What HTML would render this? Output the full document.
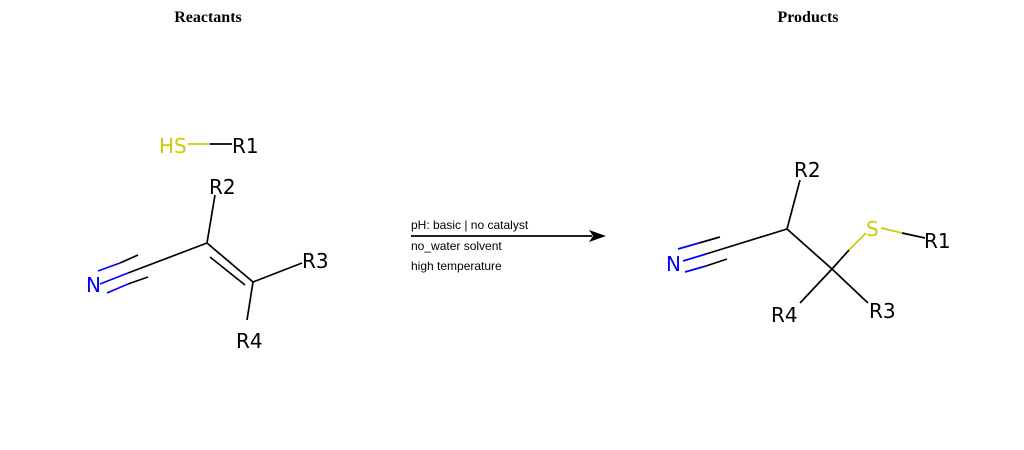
<!DOCTYPE html>
<html><head><meta charset="utf-8"><style>
html,body{margin:0;padding:0;background:#fff;width:1024px;height:450px;overflow:hidden}
svg{display:block}
.t{font-family:"DejaVu Sans","Liberation Sans",sans-serif;font-size:20px}
.c{font-family:"Liberation Sans",sans-serif;font-size:12px;fill:#000}
.h{font-family:"Liberation Serif",serif;font-size:16px;font-weight:bold;text-anchor:middle}
line{stroke-width:1.7;stroke-linecap:butt}
.k{stroke:#000}.b{stroke:#0000ff}.y{stroke:#cccc00}
</style></head><body>
<svg width="1024" height="450" viewBox="0 0 1024 450">
<text class="h" x="208" y="22">Reactants</text>
<text class="h" x="808" y="22">Products</text>

<g>
<text class="t" x="159" y="153" fill="#cccc00">HS</text>
<line class="y" x1="188" y1="144" x2="210" y2="144"/>
<line class="k" x1="210" y1="144" x2="232" y2="144"/>
<text class="t" x="232" y="153" fill="#000">R1</text>
</g>

<g>
<text class="t" x="209" y="194">R2</text>
<line class="k" x1="215" y1="195" x2="207" y2="243"/>
<line class="k" x1="207" y1="243" x2="253" y2="282"/>
<line class="k" x1="210" y1="257" x2="245" y2="285"/>
<line class="k" x1="253" y1="282" x2="302" y2="263"/>
<text class="t" x="302" y="268">R3</text>
<line class="k" x1="253" y1="282" x2="247" y2="320"/>
<text class="t" x="236" y="348">R4</text>
<line class="k" x1="207" y1="243" x2="128" y2="273"/>
<line class="b" x1="128" y1="273" x2="100" y2="284"/>
<line class="k" x1="138" y1="255" x2="120" y2="263"/>
<line class="b" x1="120" y1="263" x2="98" y2="271"/>
<line class="k" x1="148" y1="277" x2="128" y2="284"/>
<line class="b" x1="128" y1="284" x2="107" y2="293"/>
<text class="t" x="86" y="292" fill="#0000ff">N</text>
</g>

<g>
<line x1="411" y1="236" x2="592" y2="236" stroke="#000" stroke-width="1"/>
<polygon points="606,236 589,230 593,236 589,242" fill="#000"/>
<text class="c" x="411" y="229">pH: basic | no catalyst</text>
<text class="c" x="411" y="250">no_water solvent</text>
<text class="c" x="411" y="270">high temperature</text>
</g>

<g>
<text class="t" x="794" y="177">R2</text>
<line class="k" x1="800" y1="180" x2="787" y2="229"/>
<line class="k" x1="787" y1="229" x2="832" y2="269"/>
<line class="k" x1="832" y1="269" x2="849" y2="250"/>
<line class="y" x1="849" y1="250" x2="866" y2="233"/>
<text class="t" x="866" y="236" fill="#cccc00">S</text>
<line class="y" x1="881" y1="228" x2="902" y2="233"/>
<line class="k" x1="902" y1="233" x2="925" y2="238"/>
<text class="t" x="924" y="248">R1</text>
<line class="k" x1="832" y1="269" x2="800" y2="303"/>
<text class="t" x="771" y="322">R4</text>
<line class="k" x1="832" y1="269" x2="868" y2="303"/>
<text class="t" x="869" y="318">R3</text>
<line class="k" x1="787" y1="229" x2="706" y2="254"/>
<line class="b" x1="706" y1="254" x2="683" y2="261"/>
<line class="k" x1="720" y1="237" x2="699" y2="243"/>
<line class="b" x1="699" y1="243" x2="678" y2="249"/>
<line class="k" x1="727" y1="259" x2="706" y2="266"/>
<line class="b" x1="706" y1="266" x2="685" y2="272"/>
<text class="t" x="666" y="271" fill="#0000ff">N</text>
</g>
</svg>
</body></html>
